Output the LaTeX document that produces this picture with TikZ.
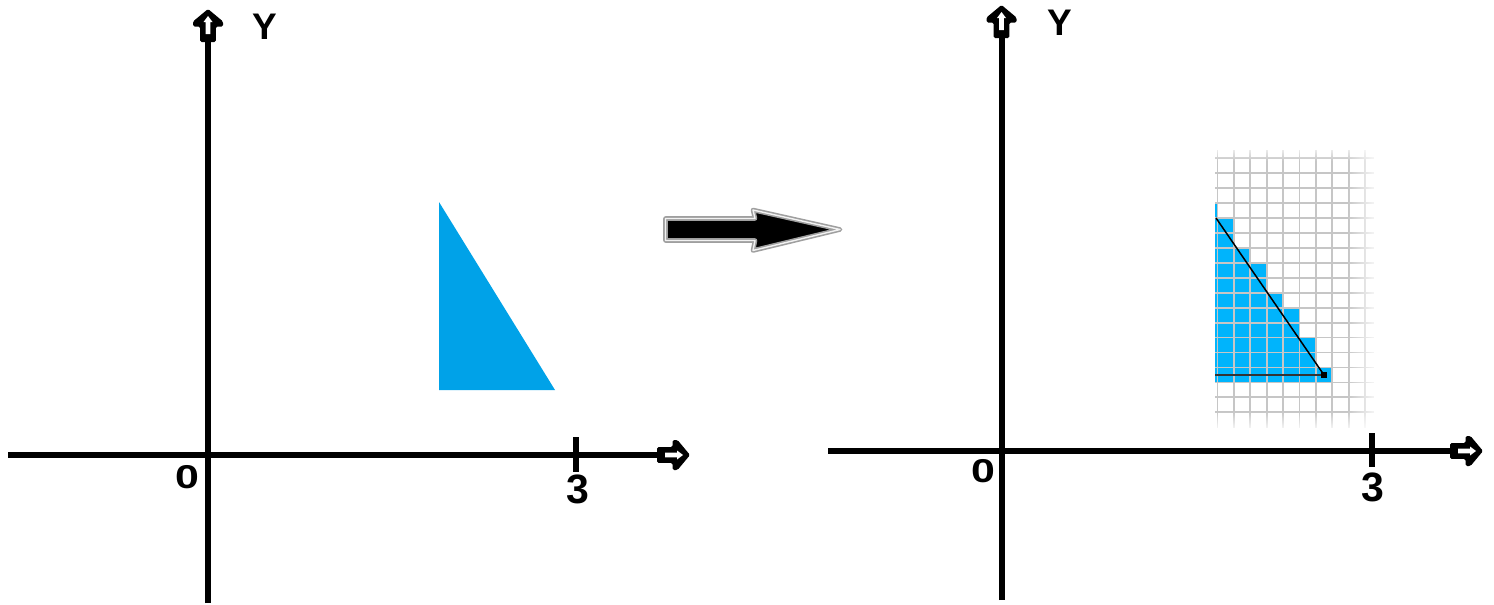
\documentclass[tikz,border=0pt]{standalone}
\usepackage{fontspec}
\setmainfont{Liberation Sans}
\usetikzlibrary{fadings,calc}
\definecolor{triblue}{RGB}{0,162,232}
\definecolor{cellblue}{RGB}{0,180,252}
\definecolor{gridgray}{RGB}{198,198,198}
\tikzset{
  axisline/.style={line width=6pt, line cap=butt},
  ticksty/.style={line width=6pt, line cap=butt},
  lbl/.style={inner sep=0pt, font=\bfseries\fontsize{#1}{#1}\selectfont},
  axhead/.pic={
    \fill[black, rounded corners=1.5pt] (-33,-7.8) -- (-17.5,-7.8) -- (-17.5,-15) -- (-12.5,-15) -- (0,0) -- (-12.5,15) -- (-17.5,15) -- (-17.5,7.8) -- (-33,7.8) -- cycle;
    \fill[white] (-25,-2.3) -- (-13,-2.3) -- (-13,-4.5) -- (-7,0) -- (-13,4.5) -- (-13,2.3) -- (-25,2.3) -- cycle;
  },
  gridline/.style={gridgray, line width=1.8pt},
  bigarrow/.style={fill=black, draw=gray!75, line width=1.6pt, double=gray!10, double distance=1.4pt, line join=round},
}
\begin{document}
\begin{tikzpicture}[x=1pt,y=-1pt]
\useasboundingbox (0,0) rectangle (1494,605);
\fill[white] (0,0) rectangle (1494,605);

% ---------- left panel ----------
\coordinate (LxS) at (8,455);
\coordinate (LxE) at (662,455);
\coordinate (LxT) at (690,455);
\coordinate (LyS) at (208,603);
\coordinate (LyE) at (208,38);
\coordinate (LyT) at (208,9);
\coordinate (LtA) at (576,437);
\coordinate (LtB) at (576,472);
\fill[triblue] (439,202) -- (439,390) -- (555,390) -- cycle;
\draw[axisline] (LxS) -- (LxE);
\draw[axisline] (LyS) -- (LyE);
\draw[ticksty] (LtA) -- (LtB);
\pic at (LxT) {axhead};
\pic[rotate=90] at (LyT) {axhead};
\node[lbl=37] (LY) at (265,27) {Y};
\node[lbl=33, xscale=1.3] (L0) at (187,477) {0};
\node[lbl=41] (L3) at (578,489) {3};

% ---------- middle arrow ----------
\draw[bigarrow] (665.5,218.5) -- (755,218.5) -- (753,210) -- (840,229.5) -- (753,250.5) -- (755,240.5) -- (665.5,240.5) -- cycle;

% ---------- right panel ----------
\coordinate (RxS) at (828,451);
\coordinate (RxE) at (1455,451);
\coordinate (RxT) at (1483,451);
\coordinate (RyS) at (1001.5,600);
\coordinate (RyE) at (1001.5,34);
\coordinate (RyT) at (1001.5,5);
\coordinate (RtA) at (1371.5,433);
\coordinate (RtB) at (1371.5,467);

% blue staircase cells
\fill[cellblue] (1215,203.1) -- (1217.5,203.1) -- (1217.5,218.1) -- (1233.9,218.1) -- (1233.9,248.0)
  -- (1250.3,248.0) -- (1250.3,262.9) -- (1266.7,262.9) -- (1266.7,292.8) -- (1283.1,292.8)
  -- (1283.1,307.7) -- (1299.5,307.7) -- (1299.5,337.6) -- (1315.9,337.6) -- (1315.9,367.5)
  -- (1332.3,367.5) -- (1332.3,382.4) -- (1215,382.4) -- cycle;
% grid
\foreach \k in {0,...,9} \draw[gridline] ({1217.5+16.4*\k},150) -- ({1217.5+16.4*\k},428);
\foreach \j in {0,...,17} \draw[gridline] (1215,{158.3+14.94*\j}) -- (1374,{158.3+14.94*\j});
% faded edges of the grid
\fill[white, path fading=south] (1205,144) rectangle (1380,161);
\fill[white, path fading=west] (1347,144) rectangle (1380,432);
\fill[white, path fading=north] (1205,411) rectangle (1380,432);
% rasterised line
\coordinate (Pa) at (1216,218);
\coordinate (Pb) at (1324,375);
\coordinate (Pc) at (1215,375);
\draw[black, line width=1.5pt] (Pa) -- (Pb);
\draw[black!80, line width=1.8pt] (Pc) -- (Pb);
\fill[black] ($(Pb)+(-3,-3)$) rectangle ($(Pb)+(3,3)$);

\draw[axisline] (RxS) -- (RxE);
\draw[axisline] (RyS) -- (RyE);
\draw[ticksty] (RtA) -- (RtB);
\pic at (RxT) {axhead};
\pic[rotate=90] at (RyT) {axhead};
\node[lbl=37] (RY) at (1060,23) {Y};
\node[lbl=33, xscale=1.3] (R0) at (983,471) {0};
\node[lbl=41] (R3) at (1373,487) {3};
\end{tikzpicture}
\end{document}
